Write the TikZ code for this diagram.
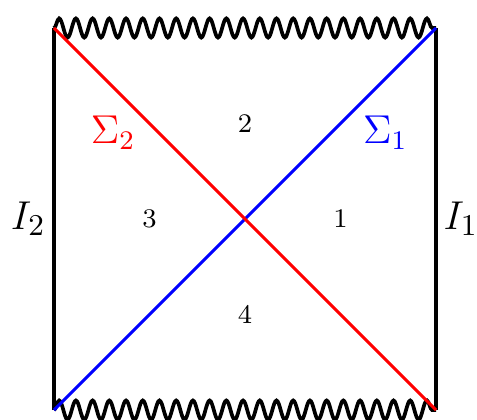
\documentclass[tikz,border=0pt]{standalone}
\usetikzlibrary{decorations.pathmorphing}
\begin{document}
\begin{tikzpicture}[line width=1.1pt,
  sing/.style={decorate,decoration={snake,amplitude=0.1cm,segment length=0.175cm}},
  horizon/.style={line width=0.9pt}]
  \useasboundingbox (-0.565,-0.094) rectangle (4.429,4.293);
  \coordinate (BL) at (0,0);
  \coordinate (BR) at (4,0);
  \coordinate (TL) at (0,4);
  \coordinate (TR) at (4,4);

  % boundaries and singularities
  \draw (BL) -- (TL);
  \draw (BR) -- (TR);
  \draw[sing] (TL) -- (TR);
  \draw[sing] (BL) -- (BR);

  % horizons
  \draw[horizon,blue] (BL) -- (TR);
  \draw[horizon,red] (TL) -- (BR);

  % labels
  \node[red,font=\large] (sig2) at (0.62,2.9) {$\Sigma_2$};
  \node[blue,font=\large] (sig1) at (3.47,2.9) {$\Sigma_1$};
  \node[font=\fontsize{13}{15}\selectfont] (scri2) at (-0.27,2.0) {$I_2$};
  \node[font=\fontsize{13}{15}\selectfont] (scri1) at (4.26,2.0) {$I_1$};
  \node[font=\footnotesize] (r1) at (3,2) {1};
  \node[font=\footnotesize] (r2) at (2,3) {2};
  \node[font=\footnotesize] (r3) at (1,2) {3};
  \node[font=\footnotesize] (r4) at (2,1) {4};
\end{tikzpicture}
\end{document}
